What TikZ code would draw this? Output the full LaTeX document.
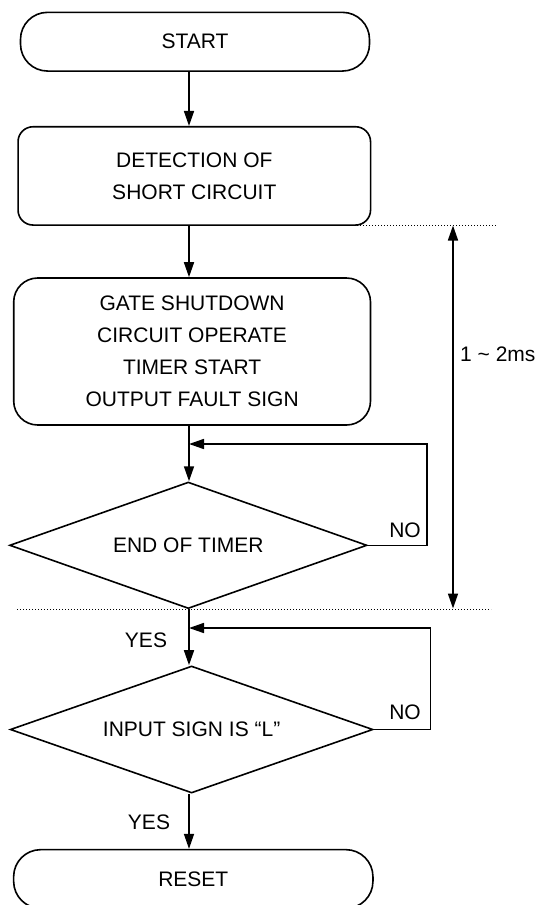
\documentclass[tikz,border=0pt]{standalone}
\usepackage{fontspec}
\setmainfont{Liberation Sans}
\usetikzlibrary{arrows.meta,shapes.geometric}
\begin{document}
\begin{tikzpicture}[x=1pt,y=-1pt,
  every node/.style={font=\fontsize{21}{32}\selectfont, inner sep=0pt},
  conn/.style={line width=1.6pt},
  arr/.style={conn, -{Triangle[length=15pt,width=10pt]}},
  dimarr/.style={conn, {Triangle[length=15pt,width=10pt]}-{Triangle[length=15pt,width=10pt]}},
  termbox/.style={draw, line width=1.6pt, rectangle, rounded corners=27pt, minimum width=349pt, minimum height=58.7pt},
  procbox/.style={draw, line width=1.6pt, rectangle, rounded corners=#1, align=center},
  decision/.style={draw, diamond, line width=1.6pt, aspect=2.8},
  dotline/.style={line width=0.9pt, dash pattern=on 1pt off 2pt}
]
\useasboundingbox (0,0) rectangle (538,905);
\coordinate (ax) at (189,0);

% nodes
\node[termbox] (start) at (195,41.7) {START};
\node[procbox=15pt, minimum width=352.5pt, minimum height=98.3pt] (det) at (194.3,175.9) {DETECTION OF\\SHORT CIRCUIT};
\node[procbox=24pt, minimum width=356.8pt, minimum height=147pt] (gate) at (192.1,351.5) {GATE SHUTDOWN\\CIRCUIT OPERATE\\TIMER START\\OUTPUT FAULT SIGN};
\node[decision, minimum width=357.4pt, minimum height=126.5pt] (d1) at (188.3,545.3) {END OF TIMER};
\node[decision, minimum width=362.7pt, minimum height=127pt] (d2) at (191.6,729.5) {INPUT SIGN IS “L”};
\node[termbox, minimum width=359.3pt] (reset) at (193.3,879) {RESET};

% labels
\node (no1) at (405,530) {NO};
\node (no2) at (405,712) {NO};
\node (yes1) at (146,640) {YES};
\node (yes2) at (149,822) {YES};
\node[anchor=west] (dimlbl) at (460,354) {1 \textasciitilde{} 2ms};

% main flow
\draw[arr] (start.south -| ax) -- (det.north -| ax);
\draw[arr] (det.south -| ax) -- (gate.north -| ax);
\draw[arr] (gate.south -| ax) -- (d1.north -| ax);
\draw[arr] (d1.south -| ax) -- (d2.north -| ax);
\draw[arr] (d2.south -| ax) -- (reset.north -| ax);

% loops
\coordinate (l1) at (427,444);
\coordinate (l2) at (430.5,628);
\draw[arr] (d1.east) -- (d1.east -| l1) -- (l1) -- (l1 -| ax);
\draw[arr] (d2.east) -- (d2.east -| l2) -- (l2) -- (l2 -| ax);

% timing lines
\coordinate (dla) at (270,225);
\coordinate (dlb) at (496,225);
\coordinate (dlc) at (17,609);
\coordinate (dld) at (491,609);
\draw[dotline] (dla) -- (dlb);
\draw[dotline] (dlc) -- (dld);
\coordinate (dimtop) at (453,225.5);
\coordinate (dimbot) at (453,608.5);
\draw[dimarr] (dimtop) -- (dimbot);
\end{tikzpicture}
\end{document}
